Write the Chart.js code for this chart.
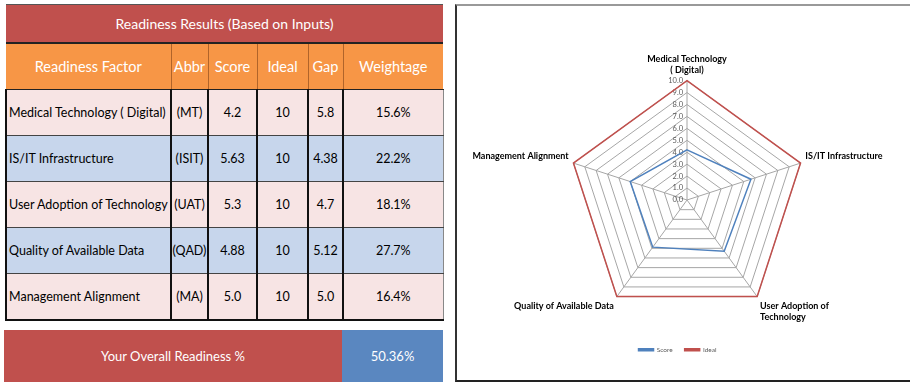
<!DOCTYPE html>
<html lang="en">
<head>
    <meta charset="UTF-8">
    <title>Readiness Results</title>
    <script src="https://cdn.jsdelivr.net/npm/chart.js"></script>
    <style>
        body {
            margin: 0;
            width: 910px;
            height: 383px;
            background: #fff;
            font-family: Lato, Arial, sans-serif;
            position: relative;
            overflow: hidden;
        }
        table.results {
            position: absolute;
            left: 5px;
            top: 4px;
            border-collapse: collapse;
            table-layout: fixed;
            width: 437px;
            font-size: 12.5px;
            color: #000;
            white-space: nowrap;
        }
        table.results td, table.results th {
            padding: 0;
            text-align: center;
            font-weight: normal;
            overflow: hidden;
        }
        .title td {
            background: #C0504D;
            color: #fff;
            height: 37px;
            font-size: 14px;
            border-bottom: 2px solid #222;
            border-top: 1px solid #555;
        }
        .head th {
            background: #F79646;
            color: #fff;
            height: 45px;
            font-size: 14.5px;
            border-left: 1px solid #B0642A;
            border-bottom: 1px solid #222;
        }
        .head th:first-child { border-left: none; }
        .row td {
            height: 45px;
            border-left: 2px solid #111;
            border-bottom: 1px solid #444;
        }
        .row td:first-child { text-align: left; padding-left: 2px; }
        .row td:last-child { border-right: 1px solid #888; }
        .row:last-child td { border-bottom: 2px solid #111; }
        .pink td { background: #F7E4E4; }
        .blue td { background: #C7D6EC; }
        .overall {
            position: absolute;
            left: 4px;
            top: 330px;
            height: 52px;
            width: 439px;
            display: flex;
            color: #fff;
            font-size: 13px;
        }
        .overall div {
            display: flex;
            align-items: center;
            justify-content: center;
        }
        .overall .lbl { width: 338px; background: #C0504D; }
        .overall .val { width: 101px; background: #5A87C0; }
        .frame {
            position: absolute;
            left: 455px;
            top: 4px;
            width: 460px;
            height: 374px;
            border-left: 2px solid #333;
            border-top: 2px solid #999;
            border-bottom: 2px solid #222;
        }
        .chart-box {
            position: absolute;
            left: 457px;
            top: 6px;
            width: 453px;
            height: 374px;
        }
    </style>
</head>
<body>
    <table class="results" id="results">
        <colgroup>
            <col style="width:165px">
            <col style="width:37px">
            <col style="width:49px">
            <col style="width:51px">
            <col style="width:35px">
            <col style="width:100px">
        </colgroup>
        <tr class="title"><td colspan="6">Readiness Results (Based on Inputs)</td></tr>
        <tr class="head">
            <th>Readiness Factor</th><th>Abbr</th><th>Score</th><th>Ideal</th><th>Gap</th><th>Weightage</th>
        </tr>
    </table>
    <div class="overall">
        <div class="lbl">Your Overall Readiness %</div>
        <div class="val" id="overallVal"></div>
    </div>
    <div class="frame"></div>
    <div class="chart-box"><canvas id="radarChart"></canvas></div>
    <script>
        const factors = ['Medical Technology ( Digital)', 'IS/IT Infrastructure', 'User Adoption of Technology', 'Quality of Available Data', 'Management Alignment'];
        const abbrs = ['(MT)', '(ISIT)', '(UAT)', '(QAD)', '(MA)'];
        const scores = [4.2, 5.63, 5.3, 4.88, 5.0];
        const scoreText = ['4.2', '5.63', '5.3', '4.88', '5.0'];
        const ideal = [10, 10, 10, 10, 10];
        const gapText = ['5.8', '4.38', '4.7', '5.12', '5.0'];
        const weightage = ['15.6%', '22.2%', '18.1%', '27.7%', '16.4%'];
        const overallReadiness = '50.36%';
        const radarLabels = [['Medical Technology', '( Digital)'], 'IS/IT Infrastructure', ['User Adoption of', 'Technology'], 'Quality of Available Data', 'Management Alignment'];
        const tickValues = [0, 1, 2, 3, 4, 5, 6, 7, 8, 9, 10];

        // table rows
        const table = document.getElementById('results');
        factors.forEach((f, i) => {
            const tr = document.createElement('tr');
            tr.className = 'row ' + (i % 2 === 0 ? 'pink' : 'blue');
            tr.innerHTML = `<td>${f}</td><td>${abbrs[i]}</td><td>${scoreText[i]}</td><td>${ideal[i]}</td><td>${gapText[i]}</td><td>${weightage[i]}</td>`;
            table.appendChild(tr);
        });
        document.getElementById('overallVal').textContent = overallReadiness;

        // Excel style tick labels: right aligned, left of the vertical axis
        const tickLabelPlugin = {
            id: 'tickLabels',
            beforeDatasetsDraw(chart) {
                const r = chart.scales.r;
                const ctx = chart.ctx;
                ctx.save();
                ctx.font = '7.5px Lato, Arial, sans-serif';
                ctx.fillStyle = '#595959';
                ctx.textAlign = 'right';
                ctx.textBaseline = 'middle';
                tickValues.forEach(v => {
                    const y = r.yCenter - r.getDistanceFromCenterForValue(v);
                    ctx.fillText(v.toFixed(1), r.xCenter - 4, y);
                });
                ctx.restore();
            }
        };

        new Chart(document.getElementById('radarChart'), {
            type: 'radar',
            data: {
                labels: radarLabels,
                datasets: [
                    {
                        label: 'Score',
                        data: scores,
                        borderColor: '#4F81BD',
                        backgroundColor: '#4F81BD',
                        borderWidth: 1.5,
                        fill: false,
                        pointRadius: 0
                    },
                    {
                        label: 'Ideal',
                        data: ideal,
                        borderColor: '#C0504D',
                        backgroundColor: '#C0504D',
                        borderWidth: 1.5,
                        fill: false,
                        pointRadius: 0
                    }
                ]
            },
            options: {
                responsive: true,
                maintainAspectRatio: false,
                animation: false,
                layout: { padding: { top: 35, bottom: 17, left: 0, right: 12 } },
                plugins: {
                    tooltip: { enabled: false },
                    legend: {
                        position: 'bottom',
                        labels: {
                            boxWidth: 15,
                            boxHeight: 2,
                            color: '#595959',
                            font: { size: 6.5, family: 'Lato, Arial, sans-serif' },
                            padding: 12
                        }
                    }
                },
                scales: {
                    r: {
                        min: 0,
                        max: 10,
                        ticks: { stepSize: 1, display: false },
                        grid: { color: '#A6A6A6', lineWidth: 1 },
                        angleLines: { color: '#A6A6A6', lineWidth: 1 },
                        pointLabels: {
                            color: '#000',
                            padding: 5,
                            font: { size: 9, weight: 'bold', family: 'Lato, Arial, sans-serif' }
                        }
                    }
                }
            },
            plugins: [tickLabelPlugin]
        });
    </script>
</body>
</html>
